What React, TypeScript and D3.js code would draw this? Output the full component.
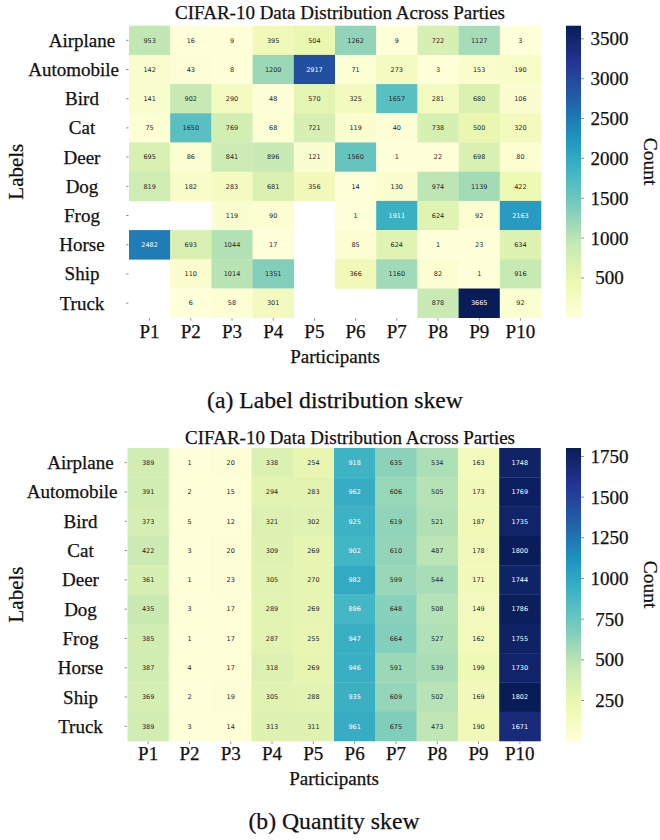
import React from 'react';
import * as d3 from 'd3';

const LABELS = ['Airplane', 'Automobile', 'Bird', 'Cat', 'Deer', 'Dog', 'Frog', 'Horse', 'Ship', 'Truck'];
const PARTIES = ['P1', 'P2', 'P3', 'P4', 'P5', 'P6', 'P7', 'P8', 'P9', 'P10'];

// (a) Label distribution skew — rows follow LABELS, columns follow PARTIES (0 = empty cell)
const labelSkewCounts = [
  [953, 16, 9, 395, 504, 1262, 9, 722, 1127, 3],
  [142, 43, 8, 1200, 2917, 71, 273, 3, 153, 190],
  [141, 902, 290, 48, 570, 325, 1657, 281, 680, 106],
  [75, 1650, 769, 68, 721, 119, 40, 738, 500, 320],
  [695, 86, 841, 896, 121, 1560, 1, 22, 698, 80],
  [819, 182, 283, 681, 356, 14, 130, 974, 1139, 422],
  [0, 0, 119, 90, 0, 1, 1911, 624, 92, 2163],
  [2482, 693, 1044, 17, 0, 85, 624, 1, 23, 634],
  [0, 110, 1014, 1351, 0, 366, 1160, 82, 1, 916],
  [0, 6, 58, 301, 0, 0, 0, 878, 3665, 92],
];

// (b) Quantity skew
const quantitySkewCounts = [
  [389, 1, 20, 338, 254, 918, 635, 534, 163, 1748],
  [391, 2, 15, 294, 283, 962, 606, 505, 173, 1769],
  [373, 5, 12, 321, 302, 925, 619, 521, 187, 1735],
  [422, 3, 20, 309, 269, 902, 610, 487, 178, 1800],
  [361, 1, 23, 305, 270, 982, 599, 544, 171, 1744],
  [435, 3, 17, 289, 269, 896, 648, 508, 149, 1786],
  [385, 1, 17, 287, 255, 947, 664, 527, 162, 1755],
  [387, 4, 17, 318, 269, 946, 591, 539, 199, 1730],
  [369, 2, 19, 305, 288, 935, 609, 502, 169, 1802],
  [389, 3, 14, 313, 311, 961, 675, 473, 190, 1671],
];

const labelSkewTicks = [500, 1000, 1500, 2000, 2500, 3000, 3500];
const quantitySkewTicks = [250, 500, 750, 1000, 1250, 1500, 1750];

const TITLE = 'CIFAR-10 Data Distribution Across Parties';

const YLGNBU = ['#ffffd9', '#edf8b1', '#c7e9b4', '#7fcdbb', '#41b6c4', '#1d91c0', '#225ea8', '#253494', '#081d58'];
const cmap = d3
  .scaleLinear<string>()
  .domain(d3.range(YLGNBU.length).map((i) => i / (YLGNBU.length - 1)))
  .range(YLGNBU)
  .interpolate(d3.interpolateRgb)
  .clamp(true);

const SERIF = '"Liberation Serif", "Times New Roman", serif';
const SANS = '"DejaVu Sans", sans-serif';
const INK = '#111';
const TS = { stroke: INK, strokeWidth: 0.25 };

function luminance(c: string) {
  const { r, g, b } = d3.rgb(c);
  const f = (v: number) => {
    v /= 255;
    return v <= 0.03928 ? v / 12.92 : Math.pow((v + 0.055) / 1.055, 2.4);
  };
  return 0.2126 * f(r) + 0.7152 * f(g) + 0.0722 * f(b);
}

let measureCtx: CanvasRenderingContext2D | null = null;
function textWidth(s: string, font: string) {
  if (!measureCtx) measureCtx = document.createElement('canvas').getContext('2d');
  if (!measureCtx) return s.length * 9;
  measureCtx.font = font;
  return measureCtx.measureText(s).width;
}

type Geo = {
  left: number;
  right: number;
  top: number;
  bottom: number;
  titleX: number;
  titleY: number;
  xtickY: number;
  xlabelY: number;
  captionY: number;
};

function Panel({ data, ticks, geo, caption, id }: { data: number[][]; ticks: number[]; geo: Geo; caption: string; id: string }) {
  const flat = data.flat().filter((v) => v > 0);
  const vmin = d3.min(flat) as number;
  const vmax = d3.max(flat) as number;
  const norm = d3.scaleLinear().domain([vmin, vmax]).range([0, 1]);

  const x = d3.scaleBand<string>().domain(PARTIES).range([geo.left, geo.right]);
  const y = d3.scaleBand<string>().domain(LABELS).range([geo.top, geo.bottom]);
  const cbX = 566;
  const cbW = 15;
  const cbScale = d3.scaleLinear().domain([vmin, vmax]).range([geo.bottom, geo.top]);
  const cx = (geo.left + geo.right) / 2;
  const tickFont = `19px ${SERIF}`;
  const labelCenter = geo.left - 47;
  const labelMaxRight = geo.left - 10;

  return (
    <g>
      <defs>
        <linearGradient id={`cb-${id}`} x1="0" y1="1" x2="0" y2="0">
          {YLGNBU.map((c, i) => (
            <stop key={i} offset={i / (YLGNBU.length - 1)} stopColor={c} />
          ))}
        </linearGradient>
      </defs>
      <text x={geo.titleX} y={geo.titleY} fontFamily={SERIF} fontSize={19} fill={INK} {...TS}>
        {TITLE}
      </text>
      {data.map((row, ri) =>
        row.map((v, ci) => {
          if (v <= 0) return null;
          const fill = cmap(norm(v));
          const tc = luminance(fill) > 0.408 ? '#262626' : '#ffffff';
          const px = x(PARTIES[ci]) as number;
          const py = y(LABELS[ri]) as number;
          return (
            <g key={`${ri}-${ci}`}>
              <rect x={px} y={py} width={x.bandwidth() + 0.3} height={y.bandwidth() + 0.3} fill={fill} />
              <text
                x={px + x.bandwidth() / 2}
                y={py + y.bandwidth() / 2 + 2.3}
                textAnchor="middle"
                fontFamily={SANS}
                fontSize={6.5}
                fill={tc}
              >
                {v}
              </text>
            </g>
          );
        })
      )}
      {LABELS.map((l) => {
        const yc = (y(l) as number) + y.bandwidth() / 2;
        const w = textWidth(l, tickFont);
        const center = Math.min(labelCenter, labelMaxRight - w / 2);
        return (
          <g key={l}>
            <line x1={geo.left - 3} x2={geo.left - 0.5} y1={yc} y2={yc} stroke="#777" strokeWidth={0.8} />
            <text x={center} y={yc + 6.5} textAnchor="middle" fontFamily={SERIF} fontSize={19} fill={INK} {...TS}>
              {l}
            </text>
          </g>
        );
      })}
      {PARTIES.map((p) => {
        const xc = (x(p) as number) + x.bandwidth() / 2;
        return (
          <g key={p}>
            <line x1={xc} x2={xc} y1={geo.bottom + 0.5} y2={geo.bottom + 3} stroke="#777" strokeWidth={0.8} />
            <text x={xc} y={geo.xtickY} textAnchor="middle" fontFamily={SERIF} fontSize={19} fill={INK} {...TS}>
              {p}
            </text>
          </g>
        );
      })}
      <text x={cx} y={geo.xlabelY} textAnchor="middle" fontFamily={SERIF} fontSize={19} fill={INK} {...TS}>
        Participants
      </text>
      <text
        transform={`translate(23, ${(geo.top + geo.bottom) / 2}) rotate(-90)`}
        textAnchor="middle"
        fontFamily={SERIF}
        fontSize={21}
        fill={INK}
        {...TS}
      >
        Labels
      </text>
      <rect x={cbX} y={geo.top} width={cbW} height={geo.bottom - geo.top} fill={`url(#cb-${id})`} />
      {ticks.map((t) => {
        const ty = cbScale(t);
        return (
          <g key={t}>
            <line x1={cbX + cbW} x2={cbX + cbW + 3} y1={ty} y2={ty} stroke="#777" strokeWidth={0.8} />
            <text x={609.5} y={ty + 6.5} textAnchor="middle" fontFamily={SERIF} fontSize={19} fill={INK} {...TS}>
              {t}
            </text>
          </g>
        );
      })}
      <text
        transform={`translate(644, ${(geo.top + geo.bottom) / 2 - 10}) rotate(90)`}
        textAnchor="middle"
        fontFamily={SERIF}
        fontSize={19.5}
        fill={INK}
        {...TS}
      >
        Count
      </text>
      <text x={cx} y={geo.captionY} textAnchor="middle" fontFamily={SERIF} fontSize={23.7} fill={INK} {...TS}>
        {caption}
      </text>
    </g>
  );
}

const topGeo: Geo = {
  left: 129,
  right: 541,
  top: 25.7,
  bottom: 317.7,
  titleX: 175,
  titleY: 18.5,
  xtickY: 338,
  xlabelY: 363,
  captionY: 408,
};

const bottomGeo: Geo = {
  left: 127.5,
  right: 540.5,
  top: 448,
  bottom: 741,
  titleX: 185,
  titleY: 444,
  xtickY: 760,
  xlabelY: 785,
  captionY: 829,
};

export default function App() {
  return (
    <svg
      width={660}
      height={840}
      viewBox="0 0 660 840"
      style={{ position: 'absolute', left: 0, top: 0, background: '#fff' }}
    >
      <rect x={0} y={0} width={660} height={840} fill="#fff" />
      <Panel data={labelSkewCounts} ticks={labelSkewTicks} geo={topGeo} caption="(a) Label distribution skew" id="a" />
      <Panel data={quantitySkewCounts} ticks={quantitySkewTicks} geo={bottomGeo} caption="(b) Quantity skew" id="b" />
    </svg>
  );
}
